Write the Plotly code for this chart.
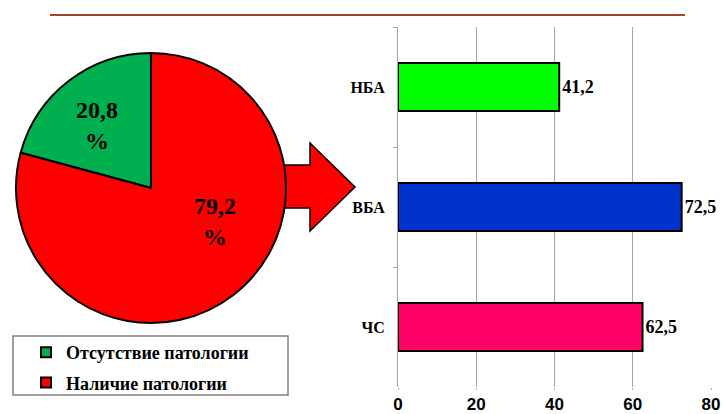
import plotly.graph_objects as go

W, H = 722, 414

# Pie: share of patients with / without pathology
pie_labels = ["Отсутствие патологии", "Наличие патологии"]
pie_values = [20.8, 79.2]
pie_colors = ["#00B050", "#FF0000"]

# Bars: breakdown of the pathology group
bar_categories = ["НБА", "ВБА", "ЧС"]
bar_values = [41.2, 72.5, 62.5]
bar_colors = ["#00FF00", "#0033CC", "#FF0066"]
x_ticks = [0, 20, 40, 60, 80]


def px(x):
    return x / W


def py(y):
    return 1 - y / H


def fmt(v):
    return f"{v:.1f}".replace(".", ",")


serif = "Times New Roman, Liberation Serif, serif"
sans = "Arial, Liberation Sans, sans-serif"

fig = go.Figure()

# first slice ends at 12 o'clock, spreading to the left
start_angle = -360 * pie_values[0] / sum(pie_values)

fig.add_trace(go.Pie(
    labels=pie_labels,
    values=pie_values,
    sort=False,
    direction="clockwise",
    rotation=start_angle,
    marker=dict(colors=pie_colors, line=dict(color="black", width=2)),
    textinfo="none",
    hoverinfo="label+value",
    showlegend=False,
    domain=dict(x=[px(16), px(286)], y=[py(323), py(53)]),
))

fig.add_trace(go.Bar(
    y=bar_categories,
    x=bar_values,
    orientation="h",
    width=0.4,
    marker=dict(color=bar_colors, line=dict(color="black", width=2)),
    text=[fmt(v) for v in bar_values],
    textposition="outside",
    textfont=dict(family=serif, size=18, color="black", weight="bold"),
    constraintext="none",
    cliponaxis=False,
    showlegend=False,
    xaxis="x",
    yaxis="y",
))

# Legend entries for the pie slices, one group each so they can be spaced apart
for name, col in zip(pie_labels, pie_colors):
    fig.add_trace(go.Scatter(
        x=[None], y=[None],
        mode="markers",
        name=name,
        legendgroup=name,
        marker=dict(symbol="square", size=10, color=col, line=dict(color="black", width=2)),
        showlegend=True,
        xaxis="x",
        yaxis="y",
    ))

# Value labels on the pie slices
pie_label_pos = [(97, 125), (215, 221)]
annotations = []
for v, (ax, ay) in zip(pie_values, pie_label_pos):
    annotations.append(dict(
        x=px(ax), y=py(ay), xref="paper", yref="paper",
        text=f"{fmt(v)}<br>%", showarrow=False,
        font=dict(family=serif, size=24, color="black", weight="bold"),
        xanchor="center", yanchor="middle",
    ))


def path(points):
    return "M " + " L ".join(f"{px(x)},{py(y)}" for x, y in points) + " Z"


arrow = [(270, 165), (310, 165), (310, 143), (355, 187), (310, 231), (310, 208), (270, 208)]

shapes = [
    # header rule
    dict(type="line", xref="paper", yref="paper",
         x0=px(50), x1=px(685), y0=py(15), y1=py(15),
         line=dict(color="#A0472A", width=2)),
    # arrow from pie to bars
    dict(type="path", xref="paper", yref="paper", path=path(arrow),
         fillcolor="#FF0000", line=dict(color="black", width=1.5), layer="below"),
    # legend frame
    dict(type="rect", xref="paper", yref="paper",
         x0=px(13), x1=px(288), y0=py(395), y1=py(336),
         line=dict(color="#808080", width=1.5), fillcolor="rgba(0,0,0,0)"),
]

fig.update_layout(
    width=W, height=H,
    margin=dict(l=0, r=0, t=0, b=0, autoexpand=False),
    paper_bgcolor="white",
    plot_bgcolor="rgba(0,0,0,0)",
    shapes=shapes,
    annotations=annotations,
    showlegend=True,
    legend=dict(
        x=px(26), y=py(334), xanchor="left", yanchor="top",
        font=dict(family=serif, size=18, color="black", weight="bold"),
        tracegroupgap=4,
        bgcolor="rgba(0,0,0,0)",
        borderwidth=0,
        itemclick=False, itemdoubleclick=False,
    ),
    xaxis=dict(
        domain=[px(398), px(711)],
        range=[0, 80],
        tickvals=x_ticks,
        showgrid=True, gridcolor="#A6A6A6", gridwidth=1,
        zeroline=False, showline=False,
        ticks="outside", ticklen=2, tickcolor="#A6A6A6",
        tickfont=dict(family=sans, size=17, color="black", weight="bold"),
        automargin=False,
        fixedrange=True,
    ),
    yaxis=dict(
        domain=[py(387), py(27)],
        autorange="reversed",
        type="category",
        showgrid=False, zeroline=False,
        showline=True, linecolor="#A6A6A6", linewidth=1,
        ticks="outside", ticklen=4, tickcolor="#A6A6A6", tickson="boundaries",
        ticklabelstandoff=9,
        tickfont=dict(family=serif, size=16, color="black", weight="bold"),
        automargin=False,
        fixedrange=True,
    ),
)

fig.write_html("out.html")
